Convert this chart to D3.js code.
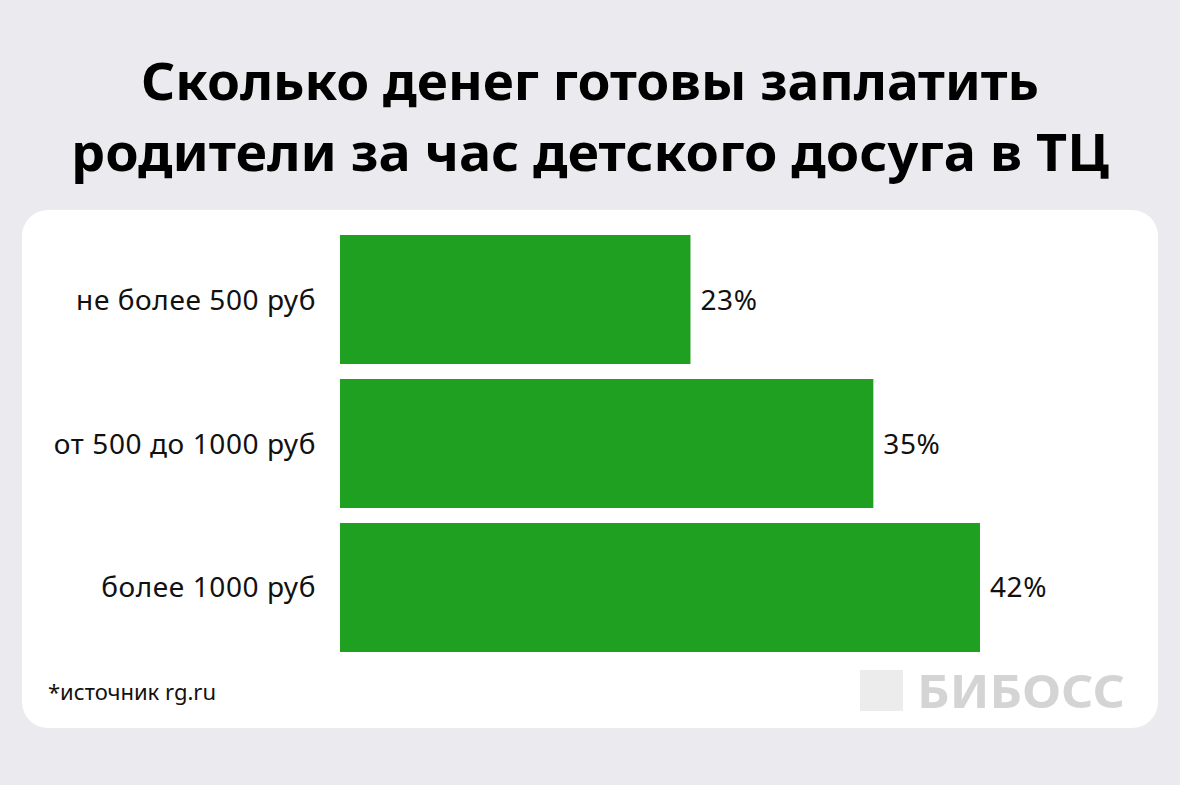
<!DOCTYPE html><html><head><meta charset="utf-8">
<script src="https://cdn.jsdelivr.net/npm/d3@7"></script>
<style>body{margin:0;background:#ebebef;}svg{display:block;}</style></head><body>
<svg id="c" width="1180" height="785"></svg>
<script>
const categories=["не более 500 руб","от 500 до 1000 руб","более 1000 руб"];
const values=[23,35,42];
const svg=d3.select("#c");
const font="'Noto Sans', sans-serif";
svg.append("rect").attr("width",1180).attr("height",785).attr("fill","#ebebef");
const title=["Сколько денег готовы заплатить","родители за час детского досуга в ТЦ"];
const tw=[898,1038];
svg.selectAll(".t").data(title).join("text").attr("x",590).attr("y",(d,i)=>100+i*71)
 .attr("text-anchor","middle").attr("font-family",font).attr("font-weight",700).attr("font-size",52)
 .attr("fill","#000").attr("textLength",(d,i)=>tw[i]).attr("lengthAdjust","spacingAndGlyphs").text(d=>d);
svg.append("rect").attr("x",22).attr("y",210).attr("width",1136).attr("height",518).attr("rx",26).attr("fill","#fff");
const x=d3.scaleLinear().domain([0,42]).range([340,980]);
const y=d3.scaleBand().domain(categories).range([235,652]).paddingInner(0.104);
svg.selectAll(".b").data(values).join("rect").attr("x",x(0)).attr("y",(d,i)=>y(categories[i]))
 .attr("width",d=>x(d)-x(0)).attr("height",y.bandwidth()).attr("fill","#20a020");
svg.selectAll(".l").data(categories).join("text").attr("x",316).attr("y",d=>y(d)+y.bandwidth()/2+10)
 .attr("text-anchor","end").attr("font-family",font).attr("font-size",28).attr("letter-spacing",0.6).attr("fill","#111").text(d=>d);
svg.selectAll(".v").data(values).join("text").attr("x",d=>x(d)+10).attr("y",(d,i)=>y(categories[i])+y.bandwidth()/2+10)
 .attr("font-family",font).attr("font-size",28).attr("letter-spacing",0.6).attr("fill","#111").text(d=>d+"%");
svg.append("text").attr("x",48).attr("y",700).attr("font-family",font).attr("font-size",22).attr("fill","#111").text("*источник rg.ru");
svg.append("rect").attr("x",860).attr("y",670).attr("width",43).attr("height",41).attr("fill","#ececec");
svg.append("text").attr("x",917).attr("y",708).attr("font-family",font).attr("font-weight",700).attr("font-size",47)
 .attr("textLength",208).attr("lengthAdjust","spacingAndGlyphs").attr("fill","#d4d4d4").text("БИБОСС");
</script></body></html>
